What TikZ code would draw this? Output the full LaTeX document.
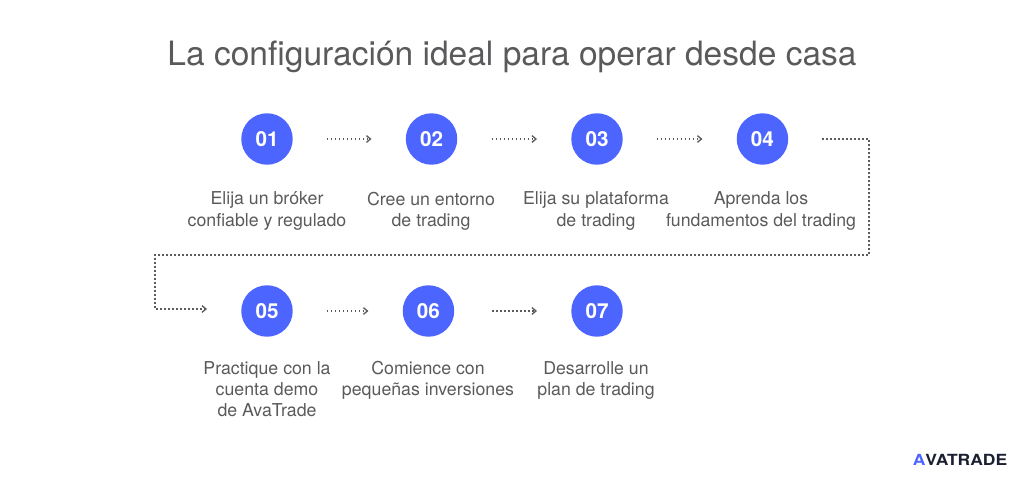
\documentclass[tikz,border=0pt]{standalone}
\usepackage{fontspec}
\setmainfont{TeX Gyre Heros}
\usepackage{xcolor}
\usepackage{tikz}
\usetikzlibrary{positioning}
\usetikzlibrary{arrows.meta}
\definecolor{Disc}{HTML}{4D65FF}
\definecolor{Ink}{HTML}{5A5A5C}
\definecolor{Logo}{HTML}{1B2030}
\tikzset{
  disc/.style={circle, fill=Disc, minimum size=38.6pt, inner sep=0pt, text=white, font=\fontsize{15.5}{15}\selectfont\bfseries},
  caption/.style={align=center, text=Ink, inner sep=0pt, font=\fontsize{13.3}{16}\selectfont},
  flow/.style={draw=Ink, line width=1pt, dash pattern=on 1pt off 2pt, -{Straight Barb[length=3pt,width=5pt,line width=1pt]}},
  gap/.style={shorten >=25.5pt, shorten <=25.5pt}
}

\begin{document}
\begin{tikzpicture}[x=0.75pt, y=-0.75pt]
        \useasboundingbox (0,0) rectangle (1024,481);
        % title
        \node[text=Ink, inner sep=0pt, font=\fontsize{25.15}{30}\selectfont] (title) at (512,57) {La configuración ideal para operar desde casa};

        % blue discs
        \node[disc] (n01) at (267,139) {01};
        \node[disc, right=84.4pt of n01] (n02) {02};
        \node[disc, right=85.1pt of n02] (n03) {03};
        \node[disc, right=85.1pt of n03] (n04) {04};
        \node[disc] (n05) at (267,311) {05};
        \node[disc, right=82.1pt of n05] (n06) {06};
        \node[disc, right=87.4pt of n06] (n07) {07};

        % captions
        \node[caption] (t01) at (267,211) {Elija un bróker\\confiable y regulado};
        \node[caption] (t02) at (431,211) {Cree un entorno\\de trading};
        \node[caption] (t03) at (596,211) {Elija su plataforma\\de trading};
        \node[caption] (t04) at (761,211) {Aprenda los\\fundamentos del trading};
        \node[caption] (t05) at (267,389) {Practique con la\\cuenta demo\\de AvaTrade};
        \node[caption] (t06) at (428,380.5) {Comience con\\pequeñas inversiones};
        \node[caption] (t07) at (596,380.5) {Desarrolle un\\plan de trading};

        % corners of the long connector
        \coordinate (c1) at (869,139);
        \coordinate (c2) at (869,255);
        \coordinate (c3) at (155,255);
        \coordinate (c4) at (155,309);
        \coordinate (c5) at (207,309);

        % edges
        \draw[flow, gap] (n01) -- (n02);
        \draw[flow, gap] (n02) -- (n03);
        \draw[flow, gap] (n03) -- (n04);
        \draw[flow, gap] (n05) -- (n06);
        \draw[flow, shorten >=25.5pt, shorten <=28.5pt] (n06) -- (n07);
        \draw[flow, shorten <=25.5pt] (n04) -- (c1) -- (c2) -- (c3) -- (c4) -- (c5);

        % logo
        \node[inner sep=0pt, text=Logo, xscale=1.14, font=\fontsize{11.5}{12}\selectfont\bfseries] (logo) at (960,460) {\textcolor{Disc}{A}VATRADE};
\end{tikzpicture}
\end{document}
